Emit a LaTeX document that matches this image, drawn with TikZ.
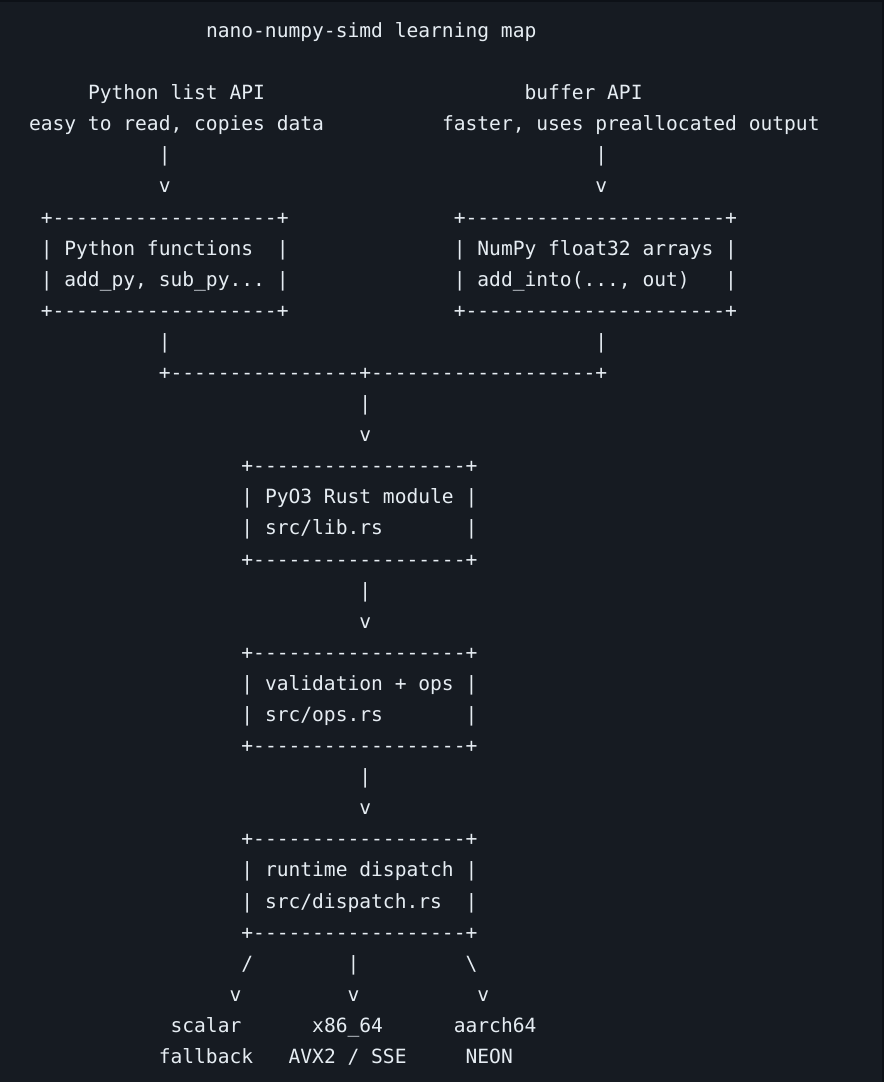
\documentclass[tikz,border=0pt]{standalone}
\usepackage{fontspec}
\setmonofont{DejaVu Sans Mono}
\definecolor{bgedge}{HTML}{0D1117}
\definecolor{bg}{HTML}{161B22}
\definecolor{fg}{HTML}{E6EDF3}
\tikzset{
  txt/.style={anchor=base west, inner sep=0pt, outer sep=0pt, text=fg,
    font=\ttfamily\fontsize{19.6}{20}\selectfont}
}
\newcommand\tline[4]{\node[txt] (#1) at ({29+11.8*#2},{37.5+31.09*#3}) {#4};}
\begin{document}
\begin{tikzpicture}[x=1pt,y=-1pt]
\useasboundingbox (0,0) rectangle (884,1082);
\fill[bgedge] (0,0) rectangle (884,1082);
\fill[bg] (0,2) rectangle (882,1082);
% title
\tline{title}{15}{0}{nano-numpy-simd learning map}
% entry points
\tline{apiL}{5}{2}{Python list API}
\tline{apiR}{42}{2}{buffer API}
\tline{apiLsub}{0}{3}{easy to read, copies data}
\tline{apiRsub}{35}{3}{faster, uses preallocated output}
\tline{barL1}{11}{4}{|}
\tline{barR1}{48}{4}{|}
\tline{vL1}{11}{5}{v}
\tline{vR1}{48}{5}{v}
% left box
\tline{boxLtop}{1}{6}{+-------------------+}
\tline{boxLa}{1}{7}{|~Python~functions~~|}
\tline{boxLb}{1}{8}{|~add\_py,~sub\_py...~|}
\tline{boxLbot}{1}{9}{+-------------------+}
% right box
\tline{boxRtop}{36}{6}{+----------------------+}
\tline{boxRa}{36}{7}{|~NumPy~float32~arrays~|}
\tline{boxRb}{36}{8}{|~add\_into(...,~out)~~~|}
\tline{boxRbot}{36}{9}{+----------------------+}
\tline{barL2}{11}{10}{|}
\tline{barR2}{48}{10}{|}
\tline{merge}{11}{11}{+----------------+-------------------+}
\tline{barM1}{28}{12}{|}
\tline{vM1}{28}{13}{v}
% PyO3 box
\tline{pyoTop}{18}{14}{+------------------+}
\tline{pyoA}{18}{15}{|~PyO3~Rust~module~|}
\tline{pyoB}{18}{16}{|~src/lib.rs~~~~~~~|}
\tline{pyoBot}{18}{17}{+------------------+}
\tline{barM2}{28}{18}{|}
\tline{vM2}{28}{19}{v}
% ops box
\tline{opsTop}{18}{20}{+------------------+}
\tline{opsA}{18}{21}{|~validation~+~ops~|}
\tline{opsB}{18}{22}{|~src/ops.rs~~~~~~~|}
\tline{opsBot}{18}{23}{+------------------+}
\tline{barM3}{28}{24}{|}
\tline{vM3}{28}{25}{v}
% dispatch box
\tline{dspTop}{18}{26}{+------------------+}
\tline{dspA}{18}{27}{|~runtime~dispatch~|}
\tline{dspB}{18}{28}{|~src/dispatch.rs~~|}
\tline{dspBot}{18}{29}{+------------------+}
% branches
\tline{brL}{18}{30}{/}
\tline{brM}{27}{30}{|}
\tline{brR}{37}{30}{\textbackslash}
\tline{vbL}{17}{31}{v}
\tline{vbM}{27}{31}{v}
\tline{vbR}{38}{31}{v}
\tline{outLa}{12}{32}{scalar}
\tline{outMa}{24}{32}{x86\_64}
\tline{outRa}{36}{32}{aarch64}
\tline{outLb}{11}{33}{fallback}
\tline{outMb}{22}{33}{AVX2~/~SSE}
\tline{outRb}{37}{33}{NEON}
\end{tikzpicture}
\end{document}
